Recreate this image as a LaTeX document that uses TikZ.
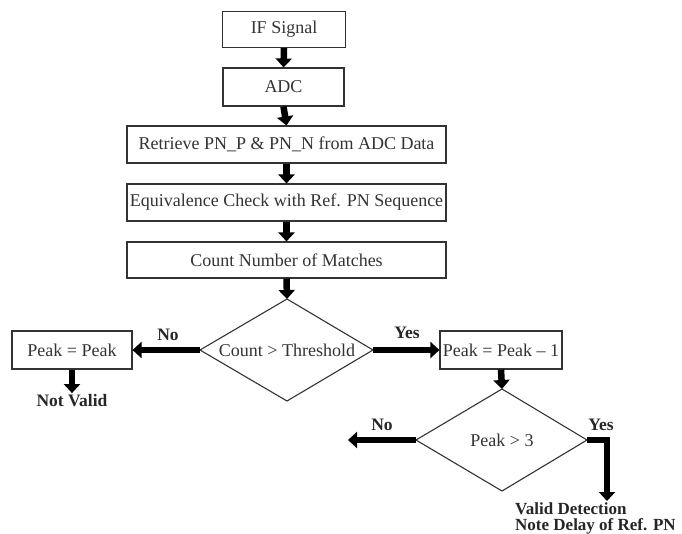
\documentclass[tikz,border=0pt]{standalone}
\usepackage{fontspec}
\setmainfont{Liberation Serif}
\usetikzlibrary{arrows.meta}
\begin{document}
\begin{tikzpicture}[x=1pt,y=-1pt,
  box/.style={draw=black!80, line width=1.1pt, inner sep=0pt, text=black!80,
    font=\fontsize{18}{20}\selectfont},
  dtxt/.style={inner sep=0pt, text=black!80, font=\fontsize{18}{20}\selectfont},
  lbl/.style={inner sep=0pt, font=\fontsize{17.5}{17}\selectfont\bfseries, text=black!85},
  flow/.style={line width=6.5pt, draw=black, line join=miter,
    -{Triangle[width=16pt,length=9pt]}},
  dia/.style={draw=black!80, line width=1.1pt, line join=miter}]
\useasboundingbox (0,0) rectangle (682,533);
% boxes
\node[box, minimum width=123pt, minimum height=36pt] (if) at (284,29.5) {IF Signal};
\node[box, minimum width=121pt, minimum height=38pt] (adc) at (283.5,87) {ADC};
\node[box, minimum width=319pt, minimum height=37pt] (ret) at (286.5,144.5) {Retrieve PN\_P \& PN\_N from ADC Data};
\node[box, minimum width=319pt, minimum height=37pt] (eq) at (286.5,202.5) {Equivalence Check with Ref. PN Sequence};
\node[box, minimum width=319pt, minimum height=36pt] (cnt) at (286.5,260) {Count Number of Matches};
% decision 1
\coordinate (d1t) at (287,299);
\coordinate (d1b) at (287,401);
\coordinate (d1l) at (200,350);
\coordinate (d1r) at (373,350);
\draw[dia] (d1t) -- (d1r) -- (d1b) -- (d1l) -- cycle;
\node[dtxt] (d1) at (287,350) {Count > Threshold};
% side boxes
\node[box, minimum width=120pt, minimum height=38pt] (pp) at (72,350) {Peak = Peak};
\node[box, minimum width=122pt, minimum height=38pt] (pp1) at (501,350) {Peak = Peak -- 1};
% decision 2
\coordinate (d2t) at (502,389);
\coordinate (d2b) at (502,491);
\coordinate (d2l) at (416,440);
\coordinate (d2r) at (587,440);
\draw[dia] (d2t) -- (d2r) -- (d2b) -- (d2l) -- cycle;
\node[dtxt] (d2) at (502,440) {Peak > 3};
% labels
\node[lbl, inner sep=1.5pt] (notvalid) at (72,401) {Not Valid};
\node[lbl] (no1) at (168,335) {No};
\node[lbl] (yes1) at (407,333) {Yes};
\node[lbl] (no2) at (382,425) {No};
\node[lbl] (yes2) at (601,425) {Yes};
\node[lbl, anchor=north west, align=left, font=\fontsize{17}{16.5}\selectfont\bfseries] (valid) at (515,502) {Valid Detection\\Note Delay of Ref. PN};
\coordinate (noend) at (348,440);
\coordinate (elbow) at (607,440);
\coordinate (validend) at (607,501);
% connectors
\draw[flow] (if.south) -- (adc.north);
\draw[flow] (adc.south) -- (ret.north);
\draw[flow] (ret.south) -- (eq.north);
\draw[flow] (eq.south) -- (cnt.north);
\draw[flow] (cnt.south) -- (d1t);
\draw[flow] (d1l) -- (pp.east);
\draw[flow] (pp.south) -- (notvalid.north);
\draw[flow] (d1r) -- (pp1.west);
\draw[flow] (pp1.south) -- (d2t);
\draw[flow] (d2l) -- (noend);
\draw[flow] (d2r) -- (elbow) -- (validend);
\end{tikzpicture}
\end{document}
